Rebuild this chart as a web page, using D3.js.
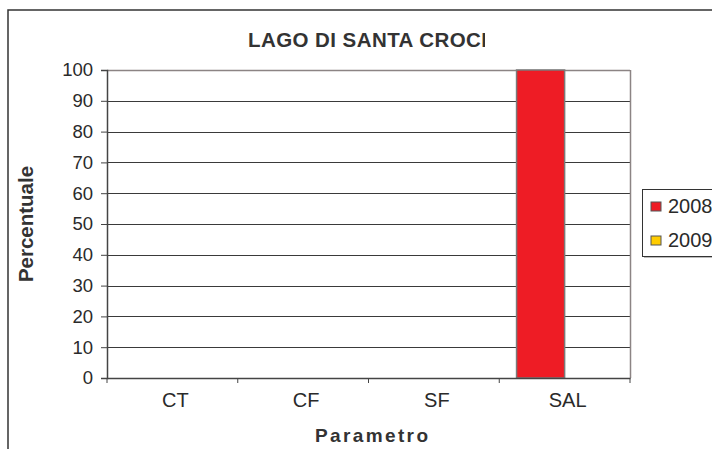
<!DOCTYPE html>
<html>
<head>
<meta charset="utf-8">
<script src="https://cdn.jsdelivr.net/npm/d3@7"></script>
<style>
  html, body { margin: 0; padding: 0; background: #fff; }
  svg { display: block; font-family: "Liberation Sans", Arial, sans-serif; }
</style>
</head>
<body>
<svg id="chart" width="712" height="449"></svg>
<script>
const title = "LAGO DI SANTA CROCI";
const categories = ["CT", "CF", "SF", "SAL"];
const seriesNames = ["2008", "2009"];
const values2008 = [0, 0, 0, 100];
const values2009 = [0, 0, 0, 0];
const seriesColors = ["#ee1c25", "#ffcc00"];
const yTicks = [0, 10, 20, 30, 40, 50, 60, 70, 80, 90, 100];
const xTitle = "Parametro";
const yTitle = "Percentuale";

const seriesValues = [values2008, values2009];
const svg = d3.select("#chart");

// outer chart border (extends beyond the window)
svg.append("rect").attr("x", 8).attr("y", 10).attr("width", 730).attr("height", 470)
  .attr("fill", "#fff").attr("stroke", "#333").attr("stroke-width", 1.5);

const plot = { left: 107, right: 630, top: 70, bottom: 378 };

const x0 = d3.scaleBand().domain(categories).range([plot.left, plot.right]).padding(0);
const x1 = d3.scaleBand().domain(seriesNames).range([0, x0.bandwidth()]).paddingInner(0).paddingOuter(0.36);
const y = d3.scaleLinear().domain([0, 100]).range([plot.bottom, plot.top]);

// gridlines
svg.append("g")
  .attr("transform", `translate(${plot.left},0)`)
  .call(d3.axisLeft(y).tickValues(yTicks).tickSize(-(plot.right - plot.left)).tickFormat(""))
  .call(g => g.select(".domain").remove())
  .call(g => g.selectAll("line").attr("stroke", "#3a3a3a").attr("stroke-width", 1).attr("shape-rendering", "crispEdges"));

// plot right/top border
svg.append("line").attr("x1", plot.right + 0.5).attr("x2", plot.right + 0.5)
  .attr("y1", plot.top).attr("y2", plot.bottom)
  .attr("stroke", "#8c8484").attr("stroke-width", 1.5);
svg.append("line").attr("x1", plot.left).attr("x2", plot.right)
  .attr("y1", plot.top + 0.5).attr("y2", plot.top + 0.5)
  .attr("stroke", "#8c8484").attr("stroke-width", 1.5);

// bars
const groups = svg.append("g").selectAll("g")
  .data(categories).join("g")
  .attr("transform", d => `translate(${x0(d)},0)`);
groups.selectAll("rect")
  .data((c, i) => seriesNames.map((s, j) => ({ s, v: seriesValues[j][i], c: seriesColors[j] })))
  .join("rect")
  .attr("x", d => x1(d.s))
  .attr("width", x1.bandwidth())
  .attr("y", d => y(d.v))
  .attr("height", d => y(0) - y(d.v))
  .attr("fill", d => d.c)
  .attr("stroke", d => d.v > 0 ? "#7a7a7a" : "none")
  .attr("stroke-width", 1.5);

// y axis
const yAxis = svg.append("g")
  .attr("transform", `translate(${plot.left},0)`)
  .call(d3.axisLeft(y).tickValues(yTicks).tickSize(6).tickPadding(8));
yAxis.select(".domain").attr("stroke", "#444").attr("stroke-width", 1.5);
yAxis.selectAll("line").attr("stroke", "#444");
yAxis.selectAll("text").attr("font-size", "18.5px").attr("fill", "#2a2a2a")
  .attr("font-family", "'Liberation Sans', Arial, sans-serif");

// x axis
const xAxis = svg.append("g")
  .attr("transform", `translate(0,${plot.bottom})`)
  .call(d3.axisBottom(x0).tickSize(0).tickPadding(15));
xAxis.select(".domain").attr("stroke", "#444").attr("stroke-width", 1.5);
xAxis.selectAll("text").attr("font-size", "20px").attr("fill", "#2a2a2a")
  .attr("dx", 3)
  .attr("font-family", "'Liberation Sans', Arial, sans-serif");
// category boundary ticks
svg.append("g").selectAll("line")
  .data(categories.concat(["__end"]))
  .join("line")
  .attr("x1", (d, i) => i < categories.length ? x0(d) : plot.right)
  .attr("x2", (d, i) => i < categories.length ? x0(d) : plot.right)
  .attr("y1", plot.bottom).attr("y2", plot.bottom + 5)
  .attr("stroke", "#444").attr("stroke-width", 1);

// title (clipped like the original)
svg.append("clipPath").attr("id", "titleClip")
  .append("rect").attr("x", 0).attr("y", 0).attr("width", 485).attr("height", 60);
svg.append("text")
  .attr("clip-path", "url(#titleClip)")
  .attr("x", 248).attr("y", 47)
  .attr("font-size", "20.5px").attr("font-weight", "bold").attr("fill", "#333")
  .attr("textLength", 239).attr("lengthAdjust", "spacing")
  .text(title);

// axis titles
svg.append("text")
  .attr("x", 315).attr("y", 442)
  .attr("font-size", "19px").attr("font-weight", "bold").attr("fill", "#333")
  .attr("textLength", 113).attr("lengthAdjust", "spacing")
  .text(xTitle);

svg.append("text")
  .attr("transform", `translate(33,${(plot.top + plot.bottom) / 2}) rotate(-90)`)
  .attr("text-anchor", "middle")
  .attr("font-size", "20.5px").attr("font-weight", "bold").attr("fill", "#333")
  .text(yTitle);

// legend
const lg = svg.append("g");
lg.append("rect").attr("x", 644).attr("y", 191).attr("width", 100).attr("height", 67)
  .attr("fill", "#bbb");
lg.append("rect").attr("x", 642.5).attr("y", 189.5).attr("width", 100).attr("height", 67)
  .attr("fill", "#fff").attr("stroke", "#333").attr("stroke-width", 1);
const items = lg.selectAll("g.item").data(seriesNames).join("g")
  .attr("class", "item")
  .attr("transform", (d, i) => `translate(651,${202 + i * 34})`);
items.append("rect").attr("width", 10).attr("height", 9)
  .attr("fill", (d, i) => seriesColors[i]).attr("stroke", "#555").attr("stroke-width", 1);
items.append("text").attr("x", 17).attr("y", 11)
  .attr("font-size", "20px").attr("fill", "#2a2a2a")
  .text(d => d);
</script>
</body>
</html>
